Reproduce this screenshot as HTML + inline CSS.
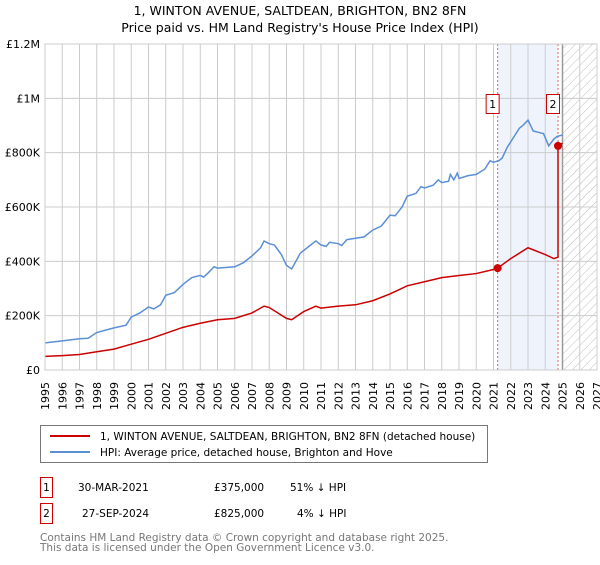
<!DOCTYPE html>
<html><head><meta charset="utf-8"><style>
body{margin:0;background:#fff;font-family:"Liberation Sans","DejaVu Sans",sans-serif;}
svg text{font-family:"DejaVu Sans","Liberation Sans",sans-serif;}
</style></head><body>
<svg id="c" width="600" height="560" xmlns="http://www.w3.org/2000/svg">
<defs><pattern id="hatch" width="6" height="6" patternUnits="userSpaceOnUse" patternTransform="rotate(45)"><line x1="0" y1="0" x2="0" y2="6" stroke="#bbb" stroke-width="1"/></pattern></defs>
<text x="300" y="15" text-anchor="middle" font-size="12.5">1, WINTON AVENUE, SALTDEAN, BRIGHTON, BN2 8FN</text>
<text x="300" y="32" text-anchor="middle" font-size="12.5">Price paid vs. HM Land Registry's House Price Index (HPI)</text>
<g id="plot"></g>
<g>
<rect x="40.5" y="425.5" width="447" height="37" fill="#fff" stroke="#777"/>
<line x1="50" y1="436" x2="90" y2="436" stroke="#cc0000" stroke-width="2"/>
<text x="100" y="440" font-size="10.5">1, WINTON AVENUE, SALTDEAN, BRIGHTON, BN2 8FN (detached house)</text>
<line x1="50" y1="452" x2="90" y2="452" stroke="#5b8fd6" stroke-width="2"/>
<text x="100" y="456" font-size="10.5">HPI: Average price, detached house, Brighton and Hove</text>
</g>
<g font-size="10.5">
<rect x="40.5" y="477.5" width="12" height="20" fill="#fff" stroke="#cc0000"/>
<text x="46.5" y="491" text-anchor="middle">1</text>
<text x="78" y="491">30-MAR-2021</text><text x="214" y="491">£375,000</text><text x="290" y="491">51% ↓ HPI</text>
<rect x="40.5" y="503.5" width="12" height="20" fill="#fff" stroke="#cc0000"/>
<text x="46.5" y="517" text-anchor="middle">2</text>
<text x="82" y="517">27-SEP-2024</text><text x="214" y="517">£825,000</text><text x="297" y="517">4% ↓ HPI</text>
</g>
<text x="40" y="541" font-size="10.5" fill="#777">Contains HM Land Registry data © Crown copyright and database right 2025.</text>
<text x="40" y="551" font-size="10.5" fill="#777">This data is licensed under the Open Government Licence v3.0.</text>
</svg>
<script>
const hpiYears=[1995,1996,1997,1997.5,1998,1999,1999.7,2000,2000.5,2001,2001.3,2001.7,2002,2002.5,2003,2003.5,2004,2004.2,2004.5,2004.8,2005,2006,2006.5,2007,2007.5,2007.7,2008,2008.3,2008.7,2009,2009.3,2009.8,2010.3,2010.7,2011,2011.3,2011.5,2012,2012.2,2012.5,2013,2013.5,2014,2014.5,2015,2015.3,2015.7,2016,2016.5,2016.8,2017,2017.5,2017.8,2018,2018.4,2018.5,2018.7,2018.9,2019,2019.5,2020,2020.5,2020.8,2021,2021.3,2021.5,2021.8,2022.2,2022.5,2022.7,2023,2023.3,2023.6,2023.9,2024.2,2024.5,2024.7,2025];
const hpiValues=[100,107,115,117,138,155,165,195,210,232,225,240,275,285,315,340,348,342,360,380,375,380,395,420,450,475,465,460,425,385,372,430,455,475,460,455,470,465,458,480,485,490,515,530,570,568,600,640,650,675,670,680,700,690,695,720,700,725,705,715,720,740,770,765,770,780,820,860,890,900,920,880,875,870,825,850,860,865];
const propYears=[1995,1996,1997,1998,1999,2000,2001,2002,2003,2004,2005,2006,2007,2007.7,2008,2009,2009.3,2010,2010.7,2011,2012,2013,2014,2015,2016,2017,2018,2019,2020,2021,2021.24,2022,2023,2024,2024.5,2024.74,2024.74,2025];
const propValues=[50,53,57,67,77,95,113,135,157,172,185,190,210,235,230,190,185,215,235,228,235,240,255,280,310,325,340,348,355,370,375,410,450,425,410,415,825,835];
const saleYears=[2021.24,2024.74];
const saleValues=[375,825];
const saleLabels=["1","2"];
const yTicks=[0,200,400,600,800,1000,1200];
const yTickLabels=["£0","£200K","£400K","£600K","£800K","£1M","£1.2M"];
const xTicks=[1995,1996,1997,1998,1999,2000,2001,2002,2003,2004,2005,2006,2007,2008,2009,2010,2011,2012,2013,2014,2015,2016,2017,2018,2019,2020,2021,2022,2023,2024,2025,2026,2027];

const L=45,R=597,T=44,B=370,x0=1995,x1=2027,yMax=1200;
const X=v=>L+(v-x0)/(x1-x0)*(R-L);
const Y=v=>B-v/yMax*(B-T);
const NS="http://www.w3.org/2000/svg";
const g=document.getElementById('plot');
function mk(tag,at,parent){const e=document.createElementNS(NS,tag);for(const k in at)e.setAttribute(k,at[k]);(parent||g).appendChild(e);return e;}

const shade=mk('rect',{x:X(saleYears[0]),y:T,width:X(saleYears[1])-X(saleYears[0]),height:B-T,fill:'#eef3fc'});


const hatch=mk('rect',{x:X(2025),y:T,width:R-X(2025),height:B-T,fill:'url(#hatch)'});



xTicks.forEach(t=>{
  const l=mk('line',{x1:X(t),x2:X(t),y1:T,y2:B,stroke:'#ccc','stroke-width':1});
  
  
  const tx=mk('text',{x:X(t),y:B+8,'font-size':11,'text-anchor':'end',transform:`rotate(-90 ${X(t)+4} ${B+8})`});
  tx.textContent=t;
  
  
});
yTicks.forEach((t,i)=>{
  const l=mk('line',{x1:L,x2:R,y1:Y(t),y2:Y(t),stroke:'#ccc','stroke-width':1});
  
  
  const tx=mk('text',{x:L-5,y:Y(t)+4,'font-size':11,'text-anchor':'end'});
  tx.textContent=yTickLabels[i];
  
  
});
const nowLine=mk('line',{x1:X(2025),x2:X(2025),y1:T,y2:B,stroke:'#999','stroke-width':1.5});


saleYears.forEach(s=>{
  const l=mk('line',{x1:X(s),x2:X(s),y1:T,y2:B,stroke:'#e06060','stroke-width':1,'stroke-dasharray':'2,2'});
  
  
});
const hp=mk('polyline',{points:hpiYears.map((y,i)=>X(y)+','+Y(hpiValues[i])).join(' '),fill:'none',stroke:'#5b8fd6','stroke-width':1.5});


const pp=mk('polyline',{points:propYears.map((y,i)=>X(y)+','+Y(propValues[i])).join(' '),fill:'none',stroke:'#cc0000','stroke-width':1.5});


saleYears.forEach((s,i)=>{
  const c=mk('circle',{cx:X(s),cy:Y(saleValues[i]),r:4,fill:'#cc0000'});
  
  
  const bx=mk('rect',{x:X(s)-11.5,y:94.5,width:13,height:19,fill:'#fff',stroke:'#cc0000'});
  
  
  const t=mk('text',{x:X(s)-5,y:108,'font-size':11,'text-anchor':'middle'});
  t.textContent=saleLabels[i];
  
  
});
const ax=mk('rect',{x:L,y:T,width:R-L,height:B-T,fill:'none',stroke:'#ccc'});


</script>
</body></html>
